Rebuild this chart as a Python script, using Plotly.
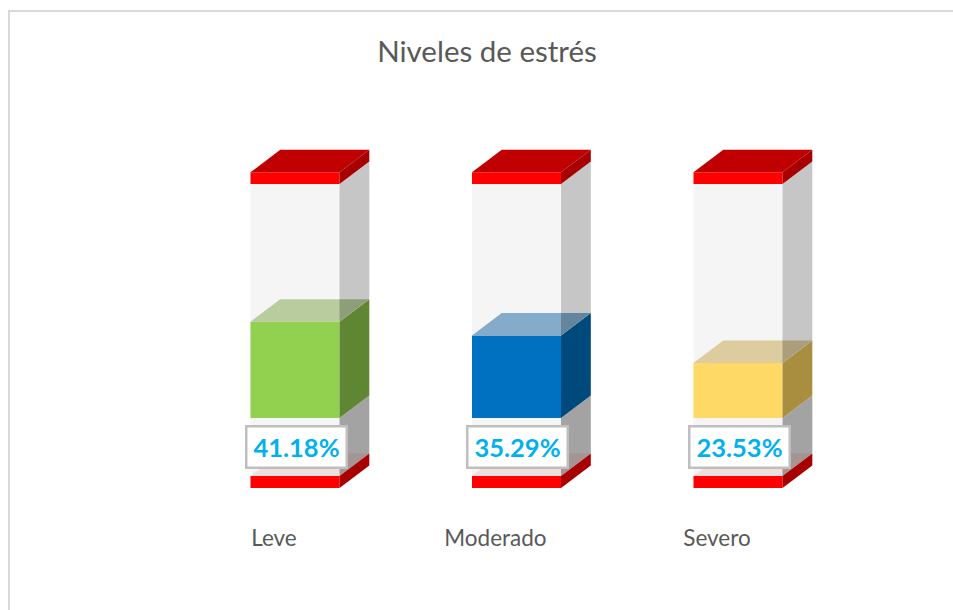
import numpy as np
import plotly.graph_objects as go

# Data
categories = ["Leve", "Moderado", "Severo"]
values = [41.18, 35.29, 23.53]
title_text = "Niveles de estrés"

# Colours
front_colors = ["#92d050", "#0070c0", "#ffd966"]
side_colors = ["#5f8733", "#00497d", "#a98e40"]
top_colors = ["#b8cc9e", "#84abc9", "#ddcca0"]

# Structural levels of the tube, on the value axis
GLASS_TOP = 100.0
CAP_TOP = 105.0
GLASS_BOTTOM = -24.8
PLATE_BOTTOM = -29.9
BAR_WIDTH = 0.402
DEPTH_X = 0.1345      # axis units
DEPTH_Y = 9.6         # axis units

# Pixel layout
W, H = 953, 610
AXIS_BOTTOM_PX = 522
PX_PER_CAT = 221.5
PX_PER_VAL = 2.34
X0_PX = 295.0
Y0_PX = 418.0

pos = np.arange(len(categories))
fig = go.Figure()


def front(base, top, color):
    height = np.array(top, dtype=float) - base
    if height.ndim == 0:
        height = np.full(len(pos), float(height))
    fig.add_trace(go.Bar(x=pos, y=height, base=base, width=BAR_WIDTH,
                         marker=dict(color=color, line=dict(width=0)), hoverinfo="skip"))


def poly(xs, ys, color):
    fig.add_trace(go.Scatter(x=xs, y=ys, mode="lines", fill="toself", fillcolor=color,
                             line=dict(width=0), hoverinfo="skip"))


def top_face(i, v, color):
    l, r = i - BAR_WIDTH / 2, i + BAR_WIDTH / 2
    poly([l, l + DEPTH_X, r + DEPTH_X, r, l], [v, v + DEPTH_Y, v + DEPTH_Y, v, v], color)


def side_face(i, low, high, color):
    r = i + BAR_WIDTH / 2
    poly([r, r + DEPTH_X, r + DEPTH_X, r, r],
         [low, low + DEPTH_Y, high + DEPTH_Y, high, low], color)


# Front faces
front(GLASS_BOTTOM, GLASS_TOP, "#f5f5f5")
front(0, values, front_colors)
front(GLASS_TOP, CAP_TOP, "#ff0000")
front(PLATE_BOTTOM, GLASS_BOTTOM, "#ff0000")

for i, v in enumerate(values):
    # lower glass side
    side_face(i, GLASS_BOTTOM, 0, "#a3a3a3")
    # bottom plate, seen through the glass
    top_face(i, GLASS_BOTTOM, "rgba(192,0,0,0.09)")
    side_face(i, PLATE_BOTTOM, GLASS_BOTTOM, "#a80000")
    # coloured block
    side_face(i, 0, v, side_colors[i])
    top_face(i, v, top_colors[i])
    # upper glass side
    side_face(i, v, GLASS_TOP, "rgba(0,0,0,0.224)")
    # cap
    top_face(i, CAP_TOP, "#c00000")
    side_face(i, GLASS_TOP, CAP_TOP, "#a80000")

for i, v in enumerate(values):
    fig.add_annotation(x=i + 0.005, y=-12.4, xref="x", yref="y", text=f"{v:.2f}%", showarrow=False,
                       font=dict(family="Lato", size=25.5, color="#00b0f0", weight="bold"),
                       bgcolor="#ffffff", bordercolor="#bfbfbf", borderwidth=2.5, borderpad=0,
                       width=98, height=39)

fig.update_layout(
    width=W, height=H, autosize=False,
    margin=dict(l=0, r=0, t=0, b=H - AXIS_BOTTOM_PX, pad=0),
    paper_bgcolor="#ffffff", plot_bgcolor="rgba(0,0,0,0)",
    barmode="overlay", showlegend=False,
    title=dict(text=title_text, x=487 / W, y=1 - 52 / H, xanchor="center", yanchor="middle",
               font=dict(family="Lato", size=29.5, color="#595959")),
    xaxis=dict(range=[-X0_PX / PX_PER_CAT, (W - X0_PX) / PX_PER_CAT],
               tickmode="array", tickvals=pos - 0.095, ticktext=categories,
               ticks="", showgrid=False, zeroline=False, showline=False,
               tickfont=dict(family="Lato", size=22.5, color="#595959")),
    yaxis=dict(range=[(Y0_PX - AXIS_BOTTOM_PX) / PX_PER_VAL, Y0_PX / PX_PER_VAL],
               showticklabels=False, ticks="", showgrid=False, zeroline=False, showline=False),
    shapes=[
        dict(type="line", xref="paper", yref="paper", x0=9 / W, x1=9 / W, y0=-1, y1=1 - 11 / AXIS_BOTTOM_PX,
             line=dict(color="#d9d9d9", width=2)),
        dict(type="line", xref="paper", yref="paper", x0=8 / W, x1=1, y0=1 - 11 / AXIS_BOTTOM_PX, y1=1 - 11 / AXIS_BOTTOM_PX,
             line=dict(color="#d9d9d9", width=2)),
    ],
)

fig.write_html("out.html", config=dict(displayModeBar=False),
               post_script="document.body.style.margin='0';document.documentElement.style.overflow='hidden';")
